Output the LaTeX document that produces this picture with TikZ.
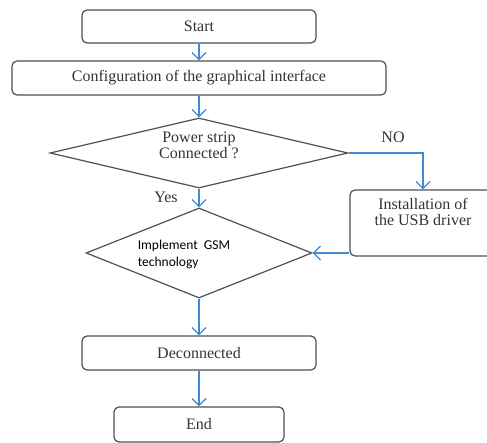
\documentclass[tikz,border=0pt]{standalone}
\usepackage{fontspec}
\setmainfont{Liberation Serif}
\newfontfamily\gsmfont{Carlito}
\usetikzlibrary{positioning}
\usetikzlibrary{shapes.geometric}
\usetikzlibrary{arrows.meta}
\definecolor{flowblue}{RGB}{62,139,207}
\definecolor{linegray}{RGB}{80,80,80}

\begin{document}
\begin{tikzpicture}[
	x=1pt,y=-1pt,
	font=\fontsize{16}{16}\selectfont,
	box/.style={draw=linegray,line width=1.2pt,rounded corners=5pt,inner sep=0pt,text=black!80},
	decision/.style={draw=linegray,line width=1.2pt,diamond,inner sep=0pt},
	flow/.style={draw=flowblue,line width=1.3pt,-{Straight Barb[length=7pt,width=14pt]}}
]

	% definitions
	\def\cx{199}

	\useasboundingbox (0,0) rectangle (487,443);

	% boxes
	\node[box,minimum width=234pt,minimum height=33pt] (start) at (\cx,26.5) {Start};
	\node[box,minimum width=374pt,minimum height=34pt] (config) at (\cx,78) {Configuration of the graphical interface};
	\node[box,minimum width=146pt,minimum height=66pt] (usb) at (423,223) {};
	\node[box,minimum width=234pt,minimum height=34pt] (decon) at (\cx,353) {Deconnected};
	\node[box,minimum width=170pt,minimum height=35pt] (end) at (\cx,424.5) {End};

	% decisions
	\node[decision,minimum width=298pt,minimum height=70pt] (power) at (\cx,153) {};
	\node[decision,minimum width=226pt,minimum height=90pt] (gsm) at (\cx,253) {};

	% texts
	\node[align=center,text=black!80] (powertext) at (\cx,145) {Power strip\\Connected ?};
	\node[align=center,anchor=north,text=black!80] (usbtext) at ([yshift=-5pt]usb.north) {Installation of\\the USB driver};
	\node[align=left,font=\gsmfont\fontsize{13.5}{17}\selectfont] (gsmtext) at (184,254) {Implement~~GSM\\technology};
	\node[text=black!80] (no) at (393,137) {NO};
	\node[text=black!80] (yes) at (166,197) {Yes};

	% arrows
	\draw[flow] (start) -- (config);
	\draw[flow] (config) -- (power);
	\draw[flow] (power.east) -| (usb.north);
	\draw[flow] (power) -- (gsm);
	\draw[flow] (usb.west |- gsm.east) -- (gsm.east);
	\draw[flow] (gsm) -- (decon);
	\draw[flow] (decon) -- (end);

\end{tikzpicture}
\end{document}
